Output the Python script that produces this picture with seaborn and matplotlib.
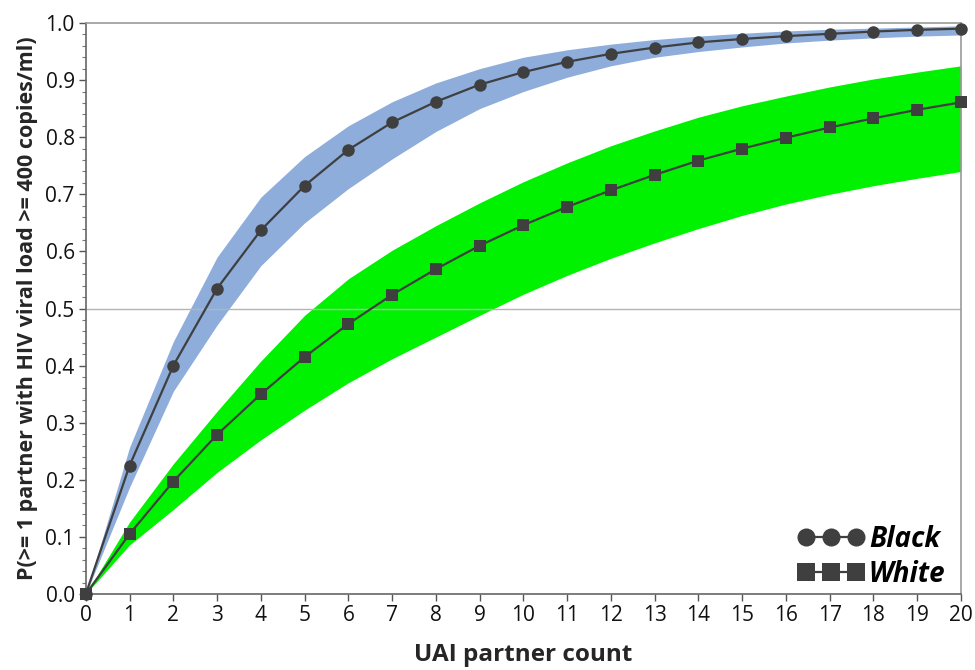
import numpy as np
import pandas as pd
import matplotlib
matplotlib.use('Agg')
import matplotlib.pyplot as plt
import seaborn as sns
from matplotlib.ticker import MultipleLocator
from matplotlib.lines import Line2D

# values
partners = list(range(0, 21))

black_mean = [0, 0.225, 0.400, 0.535, 0.637, 0.715, 0.778, 0.826, 0.862, 0.892, 0.914,
              0.932, 0.946, 0.957, 0.966, 0.972, 0.977, 0.981, 0.985, 0.988, 0.990]
black_lo = [0, 0.187, 0.355, 0.471, 0.575, 0.650, 0.710, 0.762, 0.810, 0.850, 0.880,
            0.905, 0.925, 0.940, 0.950, 0.958, 0.965, 0.970, 0.974, 0.977, 0.979]
black_hi = [0, 0.257, 0.442, 0.590, 0.695, 0.766, 0.820, 0.862, 0.895, 0.920, 0.940,
            0.953, 0.963, 0.971, 0.977, 0.982, 0.986, 0.989, 0.991, 0.993, 0.995]

white_mean = [0, 0.105, 0.197, 0.279, 0.350, 0.415, 0.473, 0.524, 0.569, 0.610, 0.646,
              0.678, 0.707, 0.734, 0.759, 0.780, 0.799, 0.817, 0.833, 0.848, 0.861]
white_lo = [0, 0.086, 0.148, 0.213, 0.270, 0.322, 0.370, 0.412, 0.450, 0.488, 0.525,
            0.558, 0.588, 0.615, 0.640, 0.663, 0.683, 0.700, 0.715, 0.728, 0.740]
white_hi = [0, 0.126, 0.228, 0.320, 0.408, 0.488, 0.552, 0.602, 0.645, 0.685, 0.722,
            0.755, 0.785, 0.811, 0.835, 0.855, 0.872, 0.888, 0.902, 0.914, 0.925]

groups = ['Black', 'White']

df = pd.concat([
    pd.DataFrame({'UAI partner count': partners, 'P': black_mean, 'lo': black_lo,
                  'hi': black_hi, 'Group': 'Black'}),
    pd.DataFrame({'UAI partner count': partners, 'P': white_mean, 'lo': white_lo,
                  'hi': white_hi, 'Group': 'White'}),
])

sns.set_style('white')
plt.rcParams['font.family'] = ['Open Sans', 'DejaVu Sans']

fig = plt.figure(figsize=(9.75, 6.7), dpi=100)
ax = fig.add_axes([0.088, 0.1134, 0.8976, 0.8523])

band_colors = {'Black': '#8eaddb', 'White': '#00f200'}
markers = {'Black': 'o', 'White': 's'}
dark = '#3f3f3f'

# confidence bands
for g in groups:
    d = df[df['Group'] == g]
    ax.fill_between(d['UAI partner count'], d['lo'], d['hi'],
                    color=band_colors[g], linewidth=0, zorder=1)

ax.axhline(0.5, color='#b4b4b4', linewidth=1, zorder=2)

# lines with markers
sns.lineplot(data=df, x='UAI partner count', y='P', hue='Group', style='Group',
             markers=markers, dashes=False, palette={g: dark for g in groups},
             markersize=9, markeredgewidth=0, linewidth=1.6, ax=ax,
             legend=False, zorder=3, clip_on=False)

ax.set_xlim(0, 20)
ax.set_ylim(0, 1)
ax.xaxis.set_major_locator(MultipleLocator(1))
ax.yaxis.set_major_locator(MultipleLocator(0.1))
ax.yaxis.set_minor_locator(MultipleLocator(0.02))
ax.yaxis.set_major_formatter(matplotlib.ticker.FormatStrFormatter('%.1f'))

ax.tick_params(axis='both', which='major', direction='out', length=5, width=1,
               color='#555555', labelsize=15, labelcolor='#111111', pad=3)
ax.tick_params(axis='y', which='minor', direction='out', length=3, width=0.8,
               color='#777777', left=True)
ax.tick_params(left=True, bottom=True)

for s in ['left', 'bottom']:
    ax.spines[s].set_color('#666666')
    ax.spines[s].set_linewidth(1.2)
for s in ['top', 'right']:
    ax.spines[s].set_color('#999999')
    ax.spines[s].set_linewidth(1.2)

ax.set_xlabel('UAI partner count', fontsize=17.5, fontweight='bold', labelpad=12)
ax.set_ylabel('P(>= 1 partner with HIV viral load >= 400 copies/ml)', fontsize=15.5,
              fontweight='bold', labelpad=5)

# legend: three markers joined by a line
handles = [Line2D([0], [0], color=dark, marker=markers[g], markersize=13,
                  markeredgewidth=0, linewidth=1.6) for g in groups]
leg = ax.legend(handles, groups, loc='lower right', bbox_to_anchor=(0.995, -0.01),
                frameon=False, numpoints=3,
                handlelength=2.4, handletextpad=0.15, labelspacing=0.2,
                borderaxespad=0.0, prop={'size': 20, 'weight': 'bold', 'style': 'italic'})
for t in leg.get_texts():
    t.set_color('black')

fig.savefig('out.png', dpi=100)
